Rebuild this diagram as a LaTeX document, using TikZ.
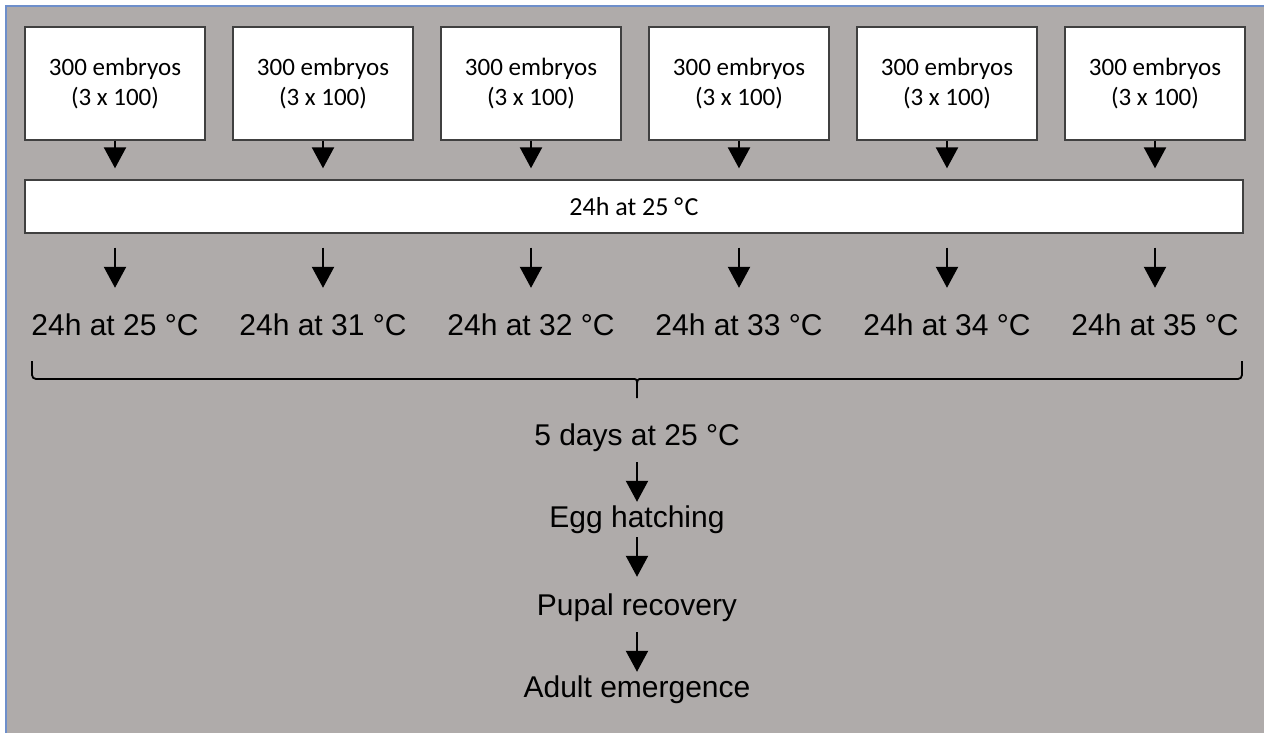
\documentclass[tikz,border=0pt]{standalone}
\usepackage{fontspec}
\setmainfont{Liberation Sans}
\newfontfamily\boxfont{Carlito}
\usetikzlibrary{arrows.meta}
\definecolor{panelgray}{HTML}{AFABAA}
\definecolor{edgeblue}{HTML}{6E8FCB}
\definecolor{boxline}{HTML}{404040}
\tikzset{
  embryobox/.style={draw=boxline, line width=1.3pt, fill=white,
    minimum width=180pt, minimum height=113pt, inner sep=0pt,
    align=center, font=\boxfont\fontsize{25pt}{30pt}\selectfont},
  widebox/.style={draw=boxline, line width=1.3pt, fill=white,
    minimum width=1218pt, minimum height=53pt, inner sep=0pt,
    font=\boxfont\fontsize{26pt}{30pt}\selectfont},
  steplabel/.style={inner sep=0pt, text height=22pt, text depth=6pt,
    anchor=base, font=\fontsize{30pt}{34pt}\selectfont},
  flow/.style={line width=2.2pt, -{Triangle[width=22pt,length=21pt]}},
}

\begin{document}
\begin{tikzpicture}[x=1pt,y=-1pt]
  \useasboundingbox (0,0) rectangle (1264,733);
  \fill[white] (0,0) rectangle (1264,733);
  \fill[panelgray] (6,6) rectangle (1264,733);
  \draw[edgeblue, line width=1.5pt] (6,733) -- (6,6) -- (1264,6);

  % incubation for everyone
  \node[widebox] (wide) at (634,206.5) {24h at 25 °\kern1.5pt C};

  % the six groups
  \foreach \temp [count=\i] in {25,31,32,33,34,35}{
    \pgfmathsetmacro\cx{115+208*(\i-1)}
    \node[embryobox] (box\i) at (\cx,83.5) {300 embryos\\(3 x 100)};
    \node[steplabel] (temp\i) at (\cx,335) {24h at \temp{} °C};
    \draw[flow, shorten >=11pt] (box\i.south) -- (box\i.south |- wide.north);
    \draw[flow, shorten <=14pt, shorten >=25pt] (box\i.south |- wide.south) -- (temp\i.north);
  }

  % brace joining the groups
  \coordinate (brL) at (32,361);
  \coordinate (brR) at (1242,361);
  \coordinate (brC) at (637,379);
  \coordinate (brM) at (637,398);
  \draw[line width=1.8pt, rounded corners=4pt]
    (brL) |- ([xshift=-9pt]brC) .. controls (brC) .. ([yshift=-10pt]brC) -- (brM);
  \draw[line width=1.8pt, rounded corners=4pt]
    (brR) |- ([xshift=9pt]brC) .. controls (brC) .. ([yshift=-10pt]brC);

  % what follows
  \node[steplabel] (days) at (637,445) {5 days at 25 °C};
  \node[steplabel] (hatch) at (637,527) {Egg hatching};
  \node[steplabel] (pupa) at (637,615) {Pupal recovery};
  \node[steplabel] (adult) at (637,697) {Adult emergence};
  \draw[flow, shorten <=11pt, shorten >=3pt] (days) -- (hatch);
  \draw[flow, shorten <=4pt, shorten >=16pt] (hatch) -- (pupa);
  \draw[flow, shorten <=11pt, shorten >=3pt] (pupa) -- (adult);
\end{tikzpicture}
\end{document}
